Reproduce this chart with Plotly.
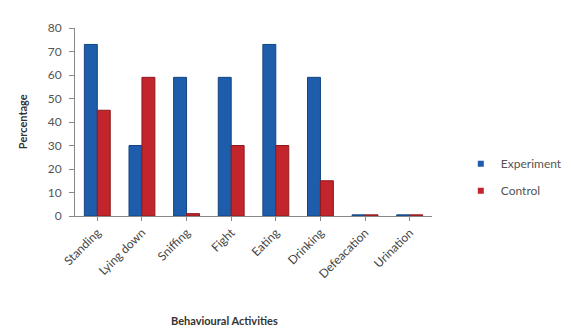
import plotly.graph_objects as go

# Behavioural activity frequencies (%) for the two groups
activities = ["Standing", "Lying down", "Sniffing", "Fight", "Eating",
              "Drinking", "Defeacation", "Urination"]
experiment = [73, 30, 59, 59, 73, 59, 0.5, 0.5]
control = [45, 59, 1, 30, 30, 15, 0.5, 0.5]
y_ticks = [0, 10, 20, 30, 40, 50, 60, 70, 80]

series = [
    ("Experiment", experiment, "#1D5DAB", "#12457F"),
    ("Control", control, "#C2252B", "#8E1A1E"),
]

W, H = 571, 328
FONT = "Lato, 'Open Sans', sans-serif"

fig = go.Figure()
for name, vals, fill, edge in series:
    fig.add_trace(go.Bar(
        x=activities, y=vals, name=name, showlegend=False,
        marker=dict(color=fill, line=dict(color=edge, width=1)),
    ))
# small square legend keys
for i, (name, vals, fill, edge) in enumerate(series):
    fig.add_trace(go.Scatter(
        x=[None], y=[None], mode="markers", name=name, legendgroup=str(i),
        marker=dict(symbol="square", size=6, color=fill),
    ))

fig.update_layout(
    width=W, height=H,
    margin=dict(l=75, r=139, t=28, b=112, autoexpand=False),
    paper_bgcolor="white", plot_bgcolor="white",
    barmode="group", bargap=0.42, bargroupgap=0.0,
    font=dict(family=FONT, size=11, color="#444"),
    showlegend=True,
    legend=dict(
        xref="container", yref="container",
        x=0.807, y=0.545, xanchor="left", yanchor="top",
        font=dict(size=12, color="#555"),
        tracegroupgap=8, itemwidth=30,
        bgcolor="rgba(0,0,0,0)",
    ),
    xaxis=dict(
        automargin=False,
        tickangle=-45, showline=True, linecolor="#888", linewidth=1,
        ticks="outside", ticklen=4, tickcolor="#888",
        tickfont=dict(size=12, color="#444"),
    ),
    yaxis=dict(
        automargin=False,
        range=[0, 80], tickvals=y_ticks, showgrid=False,
        showline=True, linecolor="#888", linewidth=1,
        ticks="outside", ticklen=5, tickcolor="#888",
        ticklabelstandoff=5,
        tickfont=dict(size=12, color="#555"),
        zeroline=False,
    ),
    annotations=[
        dict(text="<b>Behavioural Activities</b>", xref="paper", yref="paper",
             x=0.42, y=-0.555, xanchor="center", yanchor="middle",
             showarrow=False, font=dict(size=11, color="#333")),
        dict(text="<b>Percentage</b>", xref="paper", yref="paper",
             x=-0.148, y=0.5, xanchor="center", yanchor="middle",
             textangle=-90, showarrow=False, font=dict(size=11, color="#333")),
    ],
)

fig.write_html("out.html")
